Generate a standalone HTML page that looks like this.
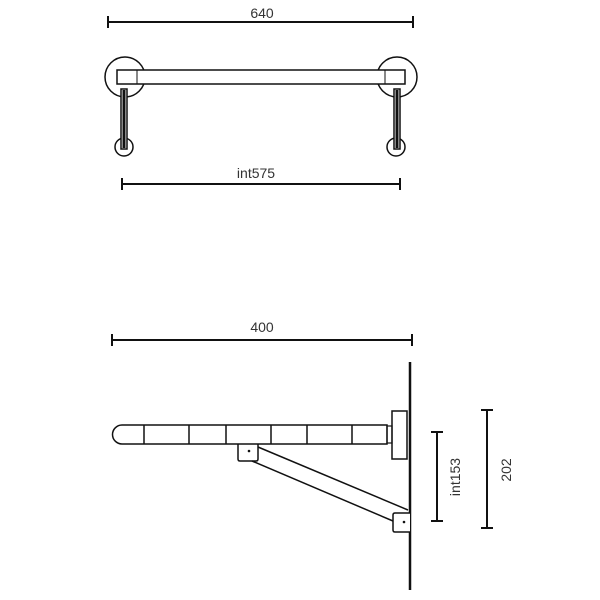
<!DOCTYPE html>
<html><head><style>body{margin:0;background:#fff}svg{display:block}</style></head><body>
<svg width="600" height="600" viewBox="0 0 600 600" xmlns="http://www.w3.org/2000/svg" font-family="Liberation Sans, sans-serif" fill="none" stroke="#111">
<!-- top dims -->
<line x1="108" y1="22" x2="413" y2="22" stroke-width="2"/>
<line x1="108" y1="16" x2="108" y2="28" stroke-width="2"/><line x1="413" y1="16" x2="413" y2="28" stroke-width="2"/>
<text x="262" y="18" font-size="14" fill="#333" stroke="none" text-anchor="middle">640</text>
<!-- top view -->
<circle cx="125" cy="77" r="20" stroke-width="1.5"/>
<circle cx="397" cy="77" r="20" stroke-width="1.5"/>
<rect x="117" y="70" width="288" height="14" fill="#fff" stroke-width="1.5"/>
<line x1="137" y1="70" x2="137" y2="84"/><line x1="385" y1="70" x2="385" y2="84"/>
<circle cx="124" cy="147" r="9" fill="#fff" stroke-width="1.5"/>
<circle cx="396" cy="147" r="9" fill="#fff" stroke-width="1.5"/>
<rect x="121" y="89" width="6" height="60" fill="#fff" stroke-width="1.5"/>
<line x1="124" y1="90" x2="124" y2="148" stroke-width="3"/>
<rect x="394" y="89" width="6" height="60" fill="#fff" stroke-width="1.5"/>
<line x1="397" y1="90" x2="397" y2="148" stroke-width="3"/>
<line x1="122" y1="184" x2="400" y2="184" stroke-width="2"/>
<line x1="122" y1="178" x2="122" y2="190" stroke-width="2"/><line x1="400" y1="178" x2="400" y2="190" stroke-width="2"/>
<text x="256" y="178" font-size="14" fill="#333" stroke="none" text-anchor="middle">int575</text>
<!-- side dims -->
<line x1="112" y1="340" x2="412" y2="340" stroke-width="2"/>
<line x1="112" y1="334" x2="112" y2="346" stroke-width="2"/><line x1="412" y1="334" x2="412" y2="346" stroke-width="2"/>
<text x="262" y="332" font-size="14" fill="#333" stroke="none" text-anchor="middle">400</text>
<!-- wall -->
<line x1="410" y1="362" x2="410" y2="590" stroke-width="2.5"/>
<!-- plate -->
<rect x="392" y="411" width="15" height="48" stroke-width="1.5"/>
<rect x="387" y="426" width="5" height="17" stroke-width="1.2"/>
<!-- bar -->
<path d="M122 425 H387 V444 H122 A9.5 9.5 0 0 1 122 425 Z" stroke-width="1.5"/>
<g stroke-width="1.5"><line x1="144" y1="425" x2="144" y2="444"/><line x1="189" y1="425" x2="189" y2="444"/><line x1="226" y1="425" x2="226" y2="444"/><line x1="271" y1="425" x2="271" y2="444"/><line x1="307" y1="425" x2="307" y2="444"/><line x1="352" y1="425" x2="352" y2="444"/></g>
<!-- bracket -->
<path d="M238 444 V459 Q238 461 240 461 H256 Q258 461 258 459 V444" stroke-width="1.5"/>
<circle cx="249" cy="451" r="1.3" fill="#111" stroke="none"/>
<line x1="258" y1="447" x2="408" y2="510" stroke-width="1.5"/>
<line x1="252" y1="461" x2="393" y2="521" stroke-width="1.5"/>
<path d="M410 513 H395 Q393 513 393 515 V530 Q393 532 395 532 H410" stroke-width="1.5" fill="#fff"/>
<circle cx="404" cy="522" r="1.3" fill="#111" stroke="none"/>
<!-- right dims -->
<line x1="437" y1="432" x2="437" y2="521" stroke-width="2"/>
<line x1="431" y1="432" x2="443" y2="432" stroke-width="2"/><line x1="431" y1="521" x2="443" y2="521" stroke-width="2"/>
<text transform="translate(460,477) rotate(-90)" font-size="14" fill="#333" stroke="none" text-anchor="middle">int153</text>
<line x1="487" y1="410" x2="487" y2="528" stroke-width="2"/>
<line x1="481" y1="410" x2="493" y2="410" stroke-width="2"/><line x1="481" y1="528" x2="493" y2="528" stroke-width="2"/>
<text transform="translate(511,470) rotate(-90)" font-size="14" fill="#333" stroke="none" text-anchor="middle">202</text>
</svg>
</body></html>
